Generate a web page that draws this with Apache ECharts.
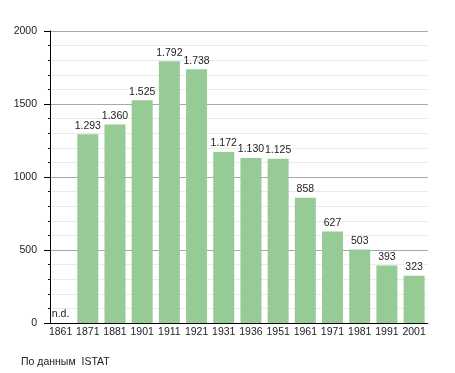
<!DOCTYPE html>
<html>
<head>
<meta charset="utf-8">
<script src="https://cdn.jsdelivr.net/npm/echarts@6/dist/echarts.min.js"></script>
<style>
html,body{margin:0;padding:0;background:#fff;}
#chart{width:455px;height:373px;}
</style>
</head>
<body>
<div id="chart"></div>
<script>
const categories = ['1861','1871','1881','1901','1911','1921','1931','1936','1951','1961','1971','1981','1991','2001'];
const population = [0, 1293, 1360, 1525, 1792, 1738, 1172, 1130, 1125, 858, 627, 503, 393, 323];
const missingLabel = 'n.d.';
const yTicks = [0, 500, 1000, 1500, 2000];
const sourceNote = 'По данным  ISTAT';

const FONT = '"Liberation Sans", Arial, sans-serif';
const fmt = v => {
  const s = String(v);
  return s.length > 3 ? s.slice(0, s.length - 3) + '.' + s.slice(-3) : s;
};

const chart = echarts.init(document.getElementById('chart'), null, {renderer: 'canvas'});
chart.setOption({
  animation: false,
  textStyle: {fontFamily: FONT},
  grid: {left: 47, right: 27.3, top: 31, bottom: 50, containLabel: false},
  xAxis: {
    type: 'category',
    data: categories,
    boundaryGap: true,
    axisLine: {lineStyle: {color: '#000', width: 1}},
    axisTick: {show: false},
    axisLabel: {color: '#222', fontSize: 10.5, margin: 4, fontFamily: FONT, interval: 0}
  },
  yAxis: {
    type: 'value',
    min: yTicks[0],
    max: yTicks[yTicks.length - 1],
    interval: 500,
    offset: -3,
    axisLine: {show: true, lineStyle: {color: '#000', width: 1}},
    axisTick: {show: true, length: 6, lineStyle: {color: '#000'}},
    minorTick: {show: true, splitNumber: 5, length: 2, lineStyle: {color: '#000'}},
    axisLabel: {color: '#222', fontSize: 10.5, margin: 13, fontFamily: FONT, formatter: v => String(v)},
    splitLine: {show: true, lineStyle: {color: '#a8a8a8', width: 1}},
    minorSplitLine: {show: true, lineStyle: {color: '#ebebeb', width: 1}}
  },
  series: [{
    type: 'bar',
    data: population,
    barWidth: 21,
    itemStyle: {color: '#96cb96'},
    label: {
      show: true,
      position: 'top',
      distance: 3,
      color: '#222',
      fontSize: 10.5,
      fontFamily: FONT,
      formatter: p => p.value === 0 ? missingLabel : fmt(p.value)
    }
  }],
  graphic: [{
    type: 'text',
    left: 21,
    top: 357,
    style: {text: sourceNote, fill: '#222', font: '10.5px ' + FONT}
  }]
});
</script>
</body>
</html>
